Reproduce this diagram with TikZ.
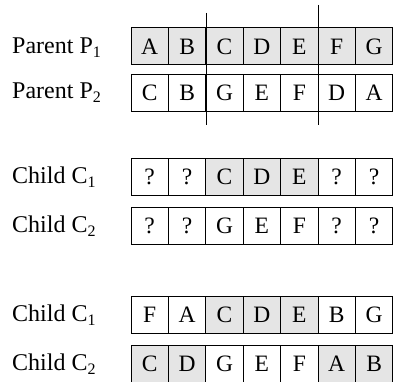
\documentclass[tikz,border=0pt]{standalone}
\usepackage{fontspec}
\setmainfont{Liberation Serif}
\definecolor{cellgray}{gray}{0.9}
\newcommand{\lowsub}[1]{\raisebox{-4pt}{\fontsize{16}{16}\selectfont #1}}
\begin{document}
\begin{tikzpicture}[x=1pt,y=-1pt,
  cellbox/.style={draw=black, line width=1pt, minimum width=37.4pt, minimum height=37pt,
    inner sep=0pt, outer sep=0pt, anchor=north west, text height=15.5pt, text depth=0pt,
    font=\fontsize{23.5}{27}\selectfont},
  rowlabel/.style={anchor=west, inner sep=0pt, text height=15.5pt, text depth=0pt,
    font=\fontsize{24}{28}\selectfont},
  cutline/.style={line width=1.3pt}]
\useasboundingbox (0,0) rectangle (393,382);
\foreach \r/\y/\cells in {
  1/28/{A/1,B/1,C/1,D/1,E/1,F/1,G/1},
  2/74.5/{C/0,B/0,G/0,E/0,F/0,D/0,A/0},
  3/158.5/{?/0,?/0,C/1,D/1,E/1,?/0,?/0},
  4/207.5/{?/0,?/0,G/0,E/0,F/0,?/0,?/0},
  5/296.5/{F/0,A/0,C/1,D/1,E/1,B/0,G/0},
  6/345/{C/1,D/1,G/0,E/0,F/0,A/1,B/1}}{
  \foreach \t/\s [count=\i] in \cells {
    \ifnum\s=1 \def\fc{cellgray}\else\def\fc{white}\fi
    \node[cellbox, fill=\fc] (c\r-\i) at ({131+37.4*(\i-1)},\y) {\t};
  }
}
\node[rowlabel] (l1) at (12,45.5) {Parent P\lowsub{1}};
\node[rowlabel] (l2) at (12,91) {Parent P\lowsub{2}};
\node[rowlabel] (l3) at (12,176) {Child C\lowsub{1}};
\node[rowlabel] (l4) at (12,225) {Child C\lowsub{2}};
\node[rowlabel] (l5) at (12,314) {Child C\lowsub{1}};
\node[rowlabel] (l6) at (12,362.5) {Child C\lowsub{2}};
\coordinate (cutAtop) at (206.3,13);
\coordinate (cutAbot) at (206.3,125);
\coordinate (cutBtop) at (318.8,5);
\coordinate (cutBbot) at (318.8,125);
\draw[cutline] (cutAtop) -- (cutAbot);
\draw[cutline] (cutBtop) -- (cutBbot);
\end{tikzpicture}
\end{document}
